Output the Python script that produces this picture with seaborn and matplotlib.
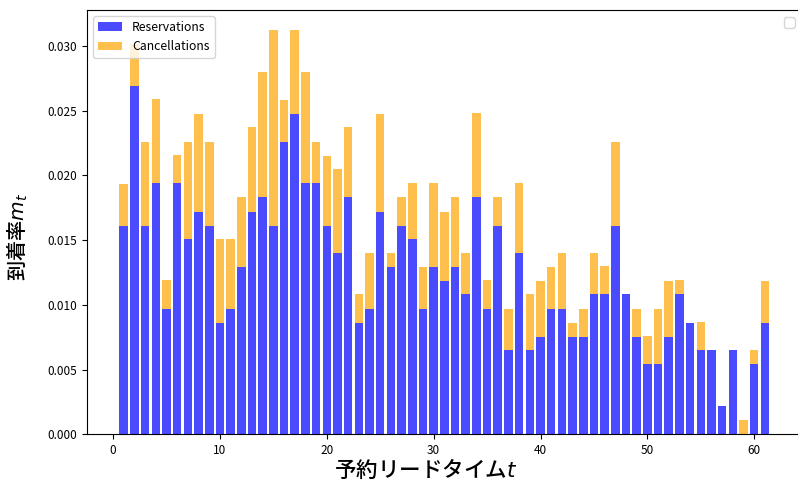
import pandas as pd
import matplotlib
matplotlib.use("Agg")
import matplotlib.pyplot as plt
import seaborn as sns

lead_time = list(range(1, 62))

reservations = [
    0.0161, 0.0269, 0.0161, 0.0194, 0.0097, 0.0194, 0.0151, 0.0172, 0.0161, 0.0086,
    0.0097, 0.0129, 0.0172, 0.0183, 0.0161, 0.0226, 0.0247, 0.0194, 0.0194, 0.0161,
    0.0140, 0.0183, 0.0086, 0.0097, 0.0172, 0.0129, 0.0161, 0.0151, 0.0097, 0.0129,
    0.0118, 0.0129, 0.0108, 0.0183, 0.0097, 0.0161, 0.0065, 0.0140, 0.0065, 0.0075,
    0.0097, 0.0097, 0.0075, 0.0075, 0.0108, 0.0108, 0.0161, 0.0108, 0.0075, 0.0054,
    0.0054, 0.0075, 0.0108, 0.0086, 0.0065, 0.0065, 0.0022, 0.0065, 0.0000, 0.0054,
    0.0086,
]

cancellations = [
    0.0032, 0.0032, 0.0065, 0.0065, 0.0022, 0.0022, 0.0075, 0.0075, 0.0065, 0.0065,
    0.0054, 0.0054, 0.0065, 0.0097, 0.0151, 0.0032, 0.0065, 0.0086, 0.0032, 0.0054,
    0.0065, 0.0054, 0.0022, 0.0043, 0.0075, 0.0011, 0.0022, 0.0043, 0.0032, 0.0065,
    0.0054, 0.0054, 0.0032, 0.0065, 0.0022, 0.0022, 0.0032, 0.0054, 0.0043, 0.0043,
    0.0032, 0.0043, 0.0011, 0.0022, 0.0032, 0.0022, 0.0065, 0.0000, 0.0022, 0.0022,
    0.0043, 0.0043, 0.0011, 0.0000, 0.0022, 0.0000, 0.0000, 0.0000, 0.0011, 0.0011,
    0.0032,
]

df = pd.DataFrame({"t": lead_time, "res": reservations, "can": cancellations})
df["total"] = df["res"] + df["can"]

plt.rcParams["font.family"] = ["Noto Sans CJK JP", "DejaVu Sans"]

fig = plt.figure(figsize=(7.98, 4.86), dpi=100)
ax = fig.add_axes([0.109, 0.1064, 0.8956, 0.873])

# stacked look: total (orange) first, reservations (blue) drawn over it
sns.barplot(data=df, x="t", y="total", native_scale=True, color="#ffbf4d",
            saturation=1, errorbar=None, width=0.8, linewidth=0,
            label="Cancellations", ax=ax)
sns.barplot(data=df, x="t", y="res", native_scale=True, color="#4a4aff",
            saturation=1, errorbar=None, width=0.8, linewidth=0,
            label="Reservations", ax=ax)

ax.set_xlabel("予約リードタイム$t$", fontsize=15.5, fontweight="medium")
ax.set_ylabel("到着率$m_t$", fontsize=14.5, fontweight="medium")
ax.xaxis.set_label_coords(0.474, -0.056)
ax.yaxis.set_label_coords(-0.08, 0.466)
ax.tick_params(labelsize=8.5)
ax.set_xticks([0, 10, 20, 30, 40, 50, 60])

handles, labels = ax.get_legend_handles_labels()
order = [labels.index("Reservations"), labels.index("Cancellations")]
leg1 = ax.legend([handles[i] for i in order], [labels[i] for i in order],
                 loc="upper left", fontsize=8.8)
ax.add_artist(leg1)
ax.legend(handles=[], loc="upper right")

fig.savefig("out.png", dpi=100)
